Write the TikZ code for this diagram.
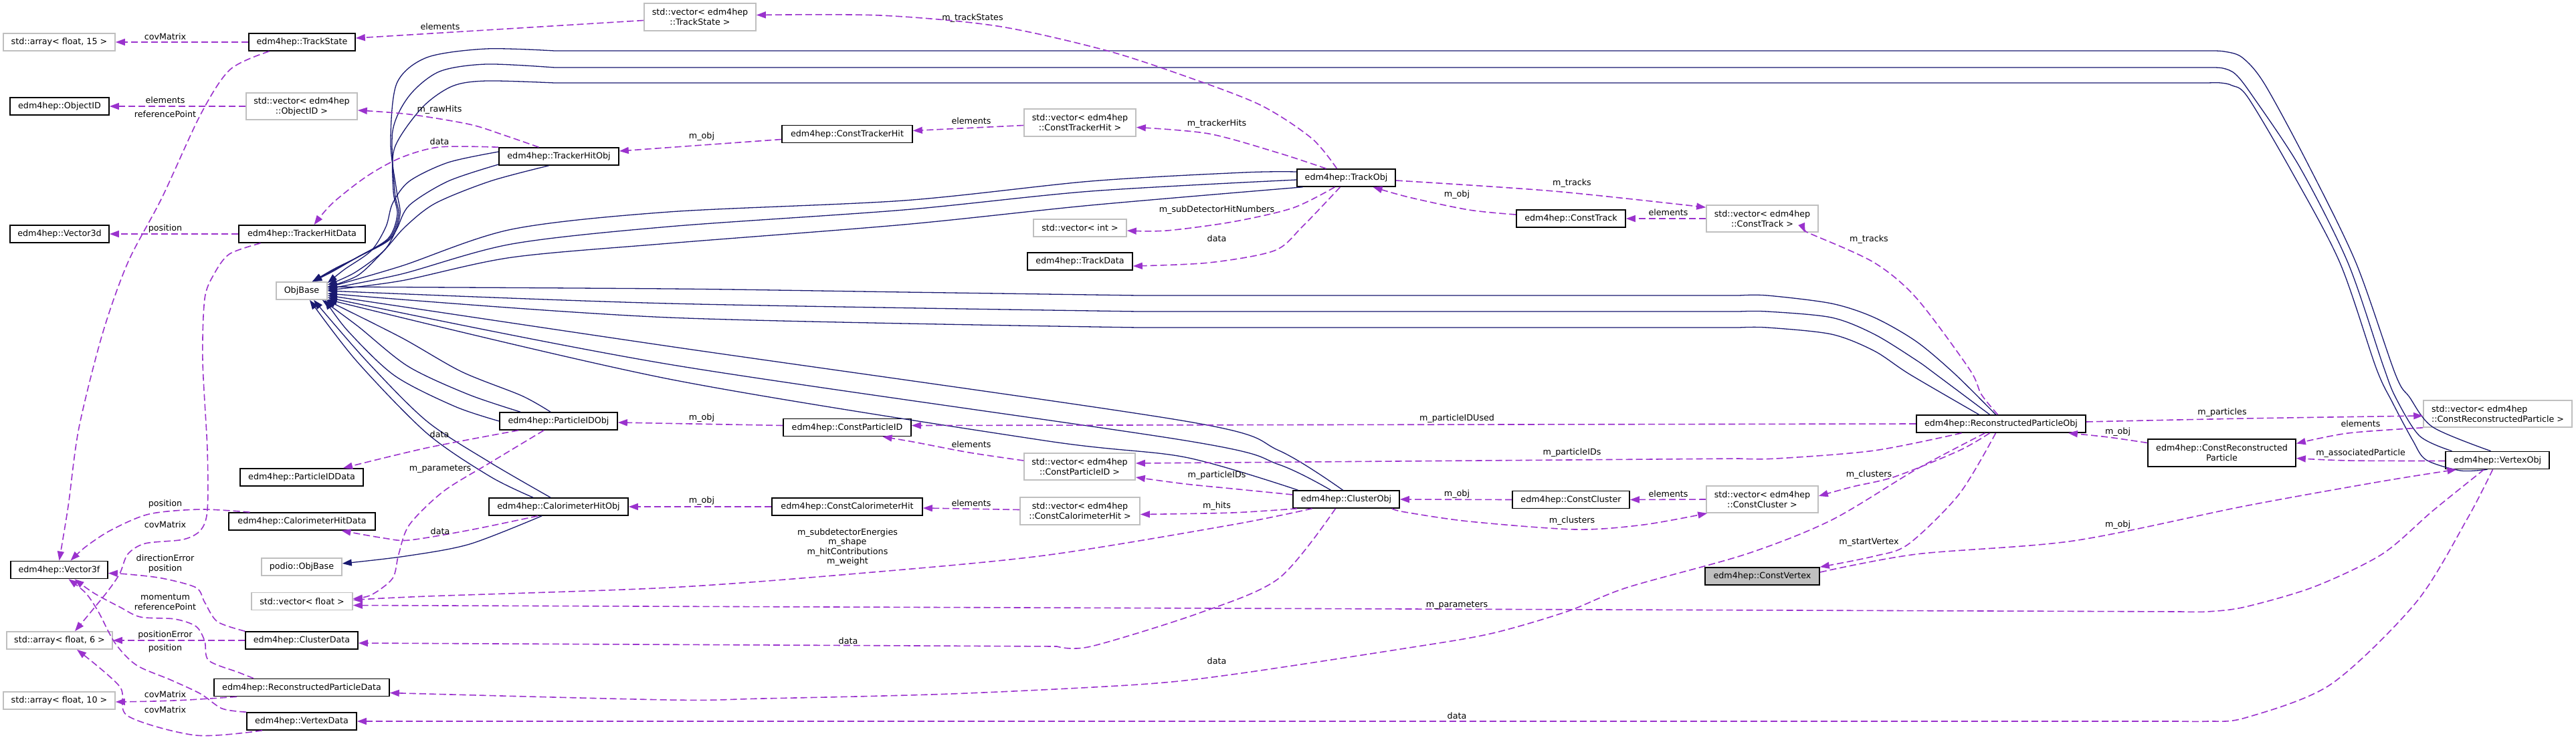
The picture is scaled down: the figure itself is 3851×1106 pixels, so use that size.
\documentclass[tikz,border=0pt]{standalone}
\usepackage{fontspec}
\setmainfont{DejaVu Sans}
\usetikzlibrary{arrows.meta}
\definecolor{edgep}{HTML}{9A32CD}
\definecolor{navyc}{HTML}{191970}
\definecolor{greyb}{HTML}{BFBFBF}
\newcommand\dxfont{\fontsize{12.7}{15}\selectfont}
\tikzset{
 box/.style={draw=black, line width=1.6pt, fill=white, inner sep=0pt, minimum height=26pt, font=\dxfont, align=center},
 gbox/.style={box, draw=greyb},
 lbl/.style={font=\dxfont, inner sep=0pt, align=center},
 dep/.style={draw=edgep, line width=1.6pt, dash pattern=on 10pt off 5pt, -{Triangle[length=14pt,width=10pt]}},
 inh/.style={draw=navyc, line width=1.3pt, -{Triangle[length=14pt,width=10pt]}},
}
\begin{document}
\begin{tikzpicture}[x=1pt,y=-1pt]
\useasboundingbox (0,0) rectangle (3851,1106);
% ---------------- nodes
\node[gbox, minimum width=167pt] (a15) at (88.5,63) {std::array< float, 15 >};
\node[box, minimum width=159pt] (ts) at (451.5,63) {edm4hep::TrackState};
\node[gbox, minimum width=167pt, minimum height=41pt] (vts) at (1046.5,25.5) {std::vector< edm4hep\\::TrackState >};
\node[box, minimum width=148pt] (oid) at (89,159) {edm4hep::ObjectID};
\node[gbox, minimum width=166pt, minimum height=40pt] (voi) at (451,159) {std::vector< edm4hep\\::ObjectID >};
\node[box, minimum width=148pt] (v3d) at (89,350) {edm4hep::Vector3d};
\node[box, minimum width=189pt] (thd) at (451.5,350) {edm4hep::TrackerHitData};
\node[gbox, minimum width=76pt] (ob) at (451,435) {ObjBase};
\node[box, minimum width=179pt] (tho) at (835.5,234) {edm4hep::TrackerHitObj};
\node[box, minimum width=176pt] (pio) at (835,630) {edm4hep::ParticleIDObj};
\node[box, minimum width=184pt] (pidd) at (451,714) {edm4hep::ParticleIDData};
\node[box, minimum width=208pt] (cho) at (835,758) {edm4hep::CalorimeterHitObj};
\node[box, minimum width=219pt] (chd) at (451.5,780) {edm4hep::CalorimeterHitData};
\node[box, minimum width=145pt] (v3f) at (88.5,852.5) {edm4hep::Vector3f};
\node[gbox, minimum width=120pt] (pob) at (451,848) {podio::ObjBase};
\node[gbox, minimum width=151pt] (vf) at (451.5,899.5) {std::vector< float >};
\node[gbox, minimum width=158pt] (a6) at (89,958) {std::array< float, 6 >};
\node[box, minimum width=168pt] (cd) at (451,958) {edm4hep::ClusterData};
\node[box, minimum width=262pt] (rpd) at (451,1028.5) {edm4hep::ReconstructedParticleData};
\node[gbox, minimum width=167pt] (a10) at (88.5,1048) {std::array< float, 10 >};
\node[box, minimum width=164pt] (vd) at (451,1079) {edm4hep::VertexData};
\node[box, minimum width=195pt] (cth) at (1266.5,200.5) {edm4hep::ConstTrackerHit};
\node[gbox, minimum width=167pt, minimum height=41pt] (vcth) at (1614.5,183.5) {std::vector< edm4hep\\::ConstTrackerHit >};
\node[box, minimum width=147pt] (to) at (2012.5,266) {edm4hep::TrackObj};
\node[gbox, minimum width=139pt] (vi) at (1614.5,341) {std::vector< int >};
\node[box, minimum width=157pt] (td) at (1614.5,391) {edm4hep::TrackData};
\node[box, minimum width=191pt] (cpid) at (1266.5,639.5) {edm4hep::ConstParticleID};
\node[gbox, minimum width=166pt, minimum height=40pt] (vcpid) at (1614,698) {std::vector< edm4hep\\::ConstParticleID >};
\node[box, minimum width=225pt] (cch) at (1266.5,758) {edm4hep::ConstCalorimeterHit};
\node[gbox, minimum width=179pt, minimum height=41pt] (vcch) at (1614.5,764.5) {std::vector< edm4hep\\::ConstCalorimeterHit >};
\node[box, minimum width=159pt] (co) at (2012.5,747) {edm4hep::ClusterObj};
\node[box, minimum width=163pt] (ct) at (2348.5,327) {edm4hep::ConstTrack};
\node[gbox, minimum width=167pt, minimum height=40pt] (vct) at (2634.5,327) {std::vector< edm4hep\\::ConstTrack >};
\node[box, minimum width=253pt] (rpo) at (2991.5,634) {edm4hep::ReconstructedParticleObj};
\node[box, minimum width=175pt] (cc) at (2348.5,747.5) {edm4hep::ConstCluster};
\node[gbox, minimum width=167pt, minimum height=40pt] (vcc) at (2634.5,747) {std::vector< edm4hep\\::ConstCluster >};
\node[box, fill=greyb, minimum width=171pt] (cv) at (2634.5,862) {edm4hep::ConstVertex};
\node[gbox, minimum width=222pt, minimum height=40pt, align=left] (vcrp) at (3734,619) {std::vector< edm4hep\\::ConstReconstructedParticle >};
\node[box, minimum width=221pt, minimum height=41pt] (crp) at (3321.5,677.5) {edm4hep::ConstReconstructed\\Particle};
\node[box, minimum width=155pt] (vo) at (3733.5,688.5) {edm4hep::VertexObj};

% ---------------- inheritance edges (navy)
\draw[inh] plot[smooth] coordinates {([xshift=-10]vo.north) (3637,639) (3602,594) (3581,560) (3522,393) (3450,245) (3385,125) (3352,86) (3325,77) (3300,76)} -- plot[smooth] coordinates {(829,76) (727,73) (638,86) (593,125) (584,214) (593,286) (598,321) (584,357) (540,382) (500,402) ([xshift=16]ob.north)};
\draw[inh] plot[smooth] coordinates {([xshift=-68]vo.north) (3617,652) (3581,594) (3562,545) (3510,393) (3438,250) (3367,143) (3342,111) (3323,102) (3300,101)} -- plot[smooth] coordinates {(829,101) (727,96) (657,107) (612,143) (587,196) (590,286) (596,321) (582,357) (536,384) (497,405) ([xshift=16]ob.north)};
\draw[inh] plot[smooth] coordinates {([xshift=-15]vo.south) (3678,704) (3627,688) (3607,659) (3576,601) (3552,550) (3498,393) (3425,255) (3360,145) (3337,128) (3320,124) (3300,124)} -- plot[smooth] coordinates {(829,124) (727,121) (676,129) (631,161) (590,221) (588,286) (594,321) (580,357) (532,386) (494,408) ([xshift=16]ob.north)};
\draw[inh] plot[smooth] coordinates {([yshift=7]tho.west) (670,243) (612,271) (587,304) (577,339) (555,375) (515,403) ([yshift=-2]ob.north east)};
\draw[inh] plot[smooth] coordinates {([yshift=-12]tho.west) (670,271) (612,307) (593,343) (574,375) (530,408) ([yshift=-5]ob.north east)};
\draw[inh] plot[smooth] coordinates {([xshift=-15]tho.south) (733,271) (651,304) (606,339) (574,375) (535,412) ([yshift=-8]ob.north east)};
\draw[inh] plot[smooth] coordinates {([yshift=9]to.west) (1860,258) (1631,271) (1351,300) (1000,317) (765,343) (600,398) ([yshift=5]ob.east)};
\draw[inh] plot[smooth] coordinates {([yshift=-3]to.west) (1631,286) (1351,314) (1000,339) (765,365) (600,410) ([yshift=3]ob.east)};
\draw[inh] plot[smooth] coordinates {([xshift=-65]to.south) (1631,307) (1351,336) (1000,364) (765,385) (600,420) ([yshift=1]ob.east)};
\draw[inh] plot[smooth] coordinates {([xshift=-8]rpo.north) (2923,560) (2865,511) (2802,475) (2738,454) (2642,442) (2600,442)} -- plot[smooth] coordinates {(1702,442) (1351,437) (1000,432) ([yshift=6]ob.east)};
\draw[inh] plot[smooth] coordinates {([xshift=-17]rpo.north) (2894,560) (2865,539) (2802,500) (2738,475) (2642,466) (2600,466)} -- plot[smooth] coordinates {(1702,466) (1000,454) (ob.east)};
\draw[inh] plot[smooth] coordinates {([xshift=-33]rpo.north) (2855,560) (2802,525) (2738,500) (2642,490) (2600,490)} -- plot[smooth] coordinates {(1702,490) (1000,475) ([yshift=-4]ob.east)};
\draw[inh] plot[smooth] coordinates {([xshift=-5]co.north) (1912,674) (1772,630) (1000,518) ([yshift=-7]ob.east)};
\draw[inh] plot[smooth] coordinates {([xshift=-23]co.north) (1912,695) (1772,659) (1000,545) ([yshift=-10]ob.east)};
\draw[inh] plot[smooth] coordinates {([xshift=-72]co.north) (1772,684) (1561,659) (1000,567) ([yshift=-13]ob.east)};
\draw[inh] plot[smooth] coordinates {(pio.west) (680,608) (590,562) (520,495) ([xshift=-4]ob.south east)};
\draw[inh] plot[smooth] coordinates {([xshift=-57]pio.north) (700,590) (610,548) (535,488) ([xshift=-8]ob.south east)};
\draw[inh] plot[smooth] coordinates {([xshift=-12]pio.north) (780,592) (690,556) (600,505) ([xshift=-2]ob.south east)};
\draw[inh] plot[smooth] coordinates {([xshift=-38]cho.north) (733,713) (638,648) (533,540) ([xshift=12]ob.south)};
\draw[inh] plot[smooth] coordinates {([xshift=-12]cho.north) (733,692) (638,630) (548,540) ([xshift=18]ob.south)};
\draw[inh] plot[smooth] coordinates {([xshift=-25]cho.south) (702,814) (606,832) ([yshift=5]pob.east)};

% ---------------- usage edges (purple dashed)
\draw[dep] (ts.west) -- (a15.east);
\draw[dep] ([yshift=-5]vts.west) -- ([yshift=6]ts.east);
\draw[dep] plot[smooth] coordinates {([xshift=-49]ts.south) (344,104) (300,171) (242,296) (191,393) (153,500) (118,640) (102,757) (v3f.north)};
\draw[dep] (voi.west) -- (oid.east);
\draw[dep] plot[smooth] coordinates {([xshift=-30]tho.north) (753,202) (702,186) (612,171) ([yshift=-6]voi.east)};
\draw[dep] plot[smooth] coordinates {(tho.north west) (657,220) (599,236) (548,264) (497,304) ([xshift=18]thd.north)};
\draw[dep] (thd.west) -- (v3d.east);
\draw[dep] plot[smooth] coordinates {([xshift=-62]thd.south) (343,380) (320,410) (306,447) (303,540) (310,673) (310,763) (300,793) (274,807) (217,813) (191,829) (179,858) (159,887) ([xshift=23]a6.north)};
\draw[dep] plot[smooth] coordinates {([xshift=-78]chd.north) (300,762) (223,769) (166,793) (128,818) ([xshift=17]v3f.north)};
\draw[dep] plot[smooth] coordinates {(cd.north west) (325,930) (306,901) (293,879) (242,865) (191,859) ([yshift=-5]v3f.east)};
\draw[dep] (cd.west) -- (a6.east);
\draw[dep] plot[smooth] coordinates {([xshift=-72]rpd.north) (357,1006) (312,988) (306,959) (293,937) (261,926) (210,923) (179,908) (140,887) ([xshift=23]v3f.south)};
\draw[dep] plot[smooth] coordinates {([xshift=-97]rpd.south) (281,1047) (230,1049) ([yshift=-2]a10.east)};
\draw[dep] plot[smooth] coordinates {(vd.north west) (332,1060) (300,1038) (255,1017) (204,995) (172,962) (147,915) (128,887) ([xshift=14]v3f.south)};
\draw[dep] plot[smooth] coordinates {([xshift=-59]vd.south) (293,1100) (191,1071) (179,1027) ([xshift=26]a6.south)};
\draw[dep] ([yshift=-8]cth.west) -- ([yshift=8]tho.east);
\draw[dep] ([yshift=-4]vcth.west) -- ([yshift=5]cth.east);
\draw[dep] plot[smooth] coordinates {([xshift=-30]to.north) (1912,229) (1807,200) ([yshift=-7]vcth.east)};
\draw[dep] plot[smooth] coordinates {([xshift=-14]to.north) (1961,207) (1884,157) (1772,114) (1652,75) (1491,39) (1316,23) ([yshift=3]vts.east)};
\draw[dep] plot[smooth] coordinates {([xshift=-17]to.south) (1933,311) (1842,332) (1744,345) ([yshift=-4]vi.east)};
\draw[dep] plot[smooth] coordinates {([xshift=-9]to.south) (1947,339) (1905,375) (1807,393) ([yshift=-7]td.east)};
\draw[dep] plot[smooth] coordinates {([yshift=-4]to.east) (2323,286) ([yshift=-4]vct.north west)};
\draw[dep] plot[smooth] coordinates {([yshift=6]ct.west) (2196,314) (2106,295) ([xshift=40]to.south)};
\draw[dep] (vct.west) -- (ct.east);
\draw[dep] plot[smooth] coordinates {([xshift=-5]rpo.north) (2962,590) (2944,552) (2865,446) (2802,393) (2712,352) ([xshift=64]vct.south)};
\draw[dep] ([yshift=3]cpid.west) -- ([yshift=-2]pio.east);
\draw[dep] plot[smooth] coordinates {([yshift=9]vcpid.west) (1449,677) (1365,661) ([xshift=53]cpid.south)};
\draw[dep] plot[smooth] coordinates {([xshift=-60]pio.south) (638,670) ([xshift=62]pidd.north)};
\draw[dep] plot[smooth] coordinates {([xshift=-22]pio.south) (733,692) (663,735) (612,785) (596,829) (587,865) (555,890) ([yshift=4]vf.east)};
\draw[dep] plot[smooth] coordinates {([xshift=-31]cho.south) (702,793) (612,808) (574,805) ([xshift=59]chd.south)};
\draw[dep] (cch.west) -- (cho.east);
\draw[dep] ([yshift=2]vcch.west) -- ([yshift=-2]cch.east);
\draw[dep] plot[smooth] coordinates {([xshift=7]co.south west) (1842,767) ([yshift=-5]vcch.east)};
\draw[dep] plot[smooth] coordinates {([yshift=7]co.west) (1842,731) (1772,724) ([yshift=-16]vcpid.east)};
\draw[dep] plot[smooth] coordinates {([xshift=-51]co.south) (1842,785) (1561,831) (1281,858) (1000,879) (638,892) ([yshift=2]vf.east)};
\draw[dep] plot[smooth] coordinates {([xshift=-16]co.south) (1912,865) (1793,917) (1631,967) (1580,967)} -- ([yshift=-4]cd.east);
\draw[dep] (cc.west) -- (co.east);
\draw[dep] (vcc.west) -- (cc.east);
\draw[dep] plot[smooth] coordinates {([xshift=-12]co.south east) (2100,766) (2196,780) (2355,792) (2457,785) ([xshift=2]vcc.south west)};
\draw[dep] plot[smooth] coordinates {([xshift=-17]rpo.south) (2929,674) (2833,713) (2770,728) ([yshift=5]vcc.east)};
\draw[dep] (rpo.west) -- ([yshift=3]cpid.east);
\draw[dep] plot[smooth] coordinates {([xshift=-59]rpo.south) (2802,674) (2655,686) (2600,686)} -- ([yshift=5]vcpid.east);
\draw[dep] plot[smooth] coordinates {([xshift=-8]rpo.south) (2929,739) (2853,814) (2802,832) (cv.north east)};
\draw[dep] plot[smooth] coordinates {([xshift=-24]rpo.south) (2865,702) (2738,778) (2610,829) (2432,879) (2342,915) (2228,948) (2100,970) (1842,1009) (1702,1024) (1421,1038) (1140,1045) (1000,1047) ([yshift=-8]rpd.east)};
\draw[dep] plot[smooth] coordinates {([yshift=6]cv.east) (2865,829) (3100,809) (3356,757) (3561,720) ([xshift=-61]vo.south)};
\draw[dep] plot[smooth] coordinates {([yshift=-1]vo.west) (3510,689) ([yshift=-8]crp.east)};
\draw[dep] plot[smooth] coordinates {(vcrp.south west) (3510,648) ([yshift=14]crp.east)};
\draw[dep] plot[smooth] coordinates {([yshift=15]crp.west) (3152,654) ([xshift=-27]rpo.south east)};
\draw[dep] plot[smooth] coordinates {([yshift=3]rpo.east) (3356,626) ([yshift=-3]vcrp.west)};
\draw[dep] plot[smooth] coordinates {([xshift=-20]vo.south) (3637,764) (3561,829) (3459,878) (3356,908) (3300,915) (3260,915)} -- ([yshift=-6]vf.east);
\draw[dep] plot[smooth] coordinates {([xshift=-7]vo.south) (3689,775) (3612,901) (3484,1024) (3356,1074) (3300,1079) (3260,1079)} -- (vd.east);

% ---------------- labels
\node[lbl] (l1) at (247,55) {covMatrix};
\node[lbl] (l2) at (658,40) {elements};
\node[lbl] (l3) at (247,171) {referencePoint};
\node[lbl] (l4) at (247,150) {elements};
\node[lbl] (l5) at (657,164) {m\_rawHits};
\node[lbl] (l6) at (657,212) {data};
\node[lbl] (l7) at (247,342) {position};
\node[lbl] (l8) at (247,785) {covMatrix};
\node[lbl] (l9) at (247,754) {position};
\node[lbl] (l10) at (247,843) {directionError\\position};
\node[lbl] (l11) at (247,950) {positionError};
\node[lbl] (l12) at (247,901) {momentum\\referencePoint};
\node[lbl] (l13) at (247,1039) {covMatrix};
\node[lbl] (l14) at (247,970) {position};
\node[lbl] (l15) at (247,1062) {covMatrix};
\node[lbl] (l16) at (1049,204) {m\_obj};
\node[lbl] (l17) at (1452,181) {elements};
\node[lbl] (l18) at (1819,185) {m\_trackerHits};
\node[lbl] (l19) at (1454,27) {m\_trackStates};
\node[lbl] (l20) at (1819,314) {m\_subDetectorHitNumbers};
\node[lbl] (l21) at (1819,357) {data};
\node[lbl] (l22) at (2350,274) {m\_tracks};
\node[lbl] (l23) at (2178,291) {m\_obj};
\node[lbl] (l24) at (2494,318) {elements};
\node[lbl] (l25) at (2794,358) {m\_tracks};
\node[lbl] (l26) at (1049,625) {m\_obj};
\node[lbl] (l27) at (1452,665) {elements};
\node[lbl] (l28) at (657,650) {data};
\node[lbl] (l29) at (658,702) {m\_parameters};
\node[lbl] (l30) at (658,795) {data};
\node[lbl] (l31) at (1049,749) {m\_obj};
\node[lbl] (l32) at (1452,753) {elements};
\node[lbl] (l33) at (1819,757) {m\_hits};
\node[lbl] (l34) at (1819,711) {m\_particleIDs};
\node[lbl, font=\fontsize{12.7}{14.4}\selectfont] (l35) at (1267,818.5) {m\_subdetectorEnergies\\m\_shape\\m\_hitContributions\\m\_weight};
\node[lbl] (l36) at (1268,959) {data};
\node[lbl] (l37) at (2178,739) {m\_obj};
\node[lbl] (l38) at (2494,739) {elements};
\node[lbl] (l39) at (2350,779) {m\_clusters};
\node[lbl] (l40) at (2794,710) {m\_clusters};
\node[lbl] (l41) at (2178,626) {m\_particleIDUsed};
\node[lbl] (l42) at (2350,677) {m\_particleIDs};
\node[lbl] (l43) at (2794,811) {m\_startVertex};
\node[lbl] (l44) at (1819,989) {data};
\node[lbl] (l45) at (3166,785) {m\_obj};
\node[lbl] (l46) at (3529,678) {m\_associatedParticle};
\node[lbl] (l47) at (3529,634) {elements};
\node[lbl] (l48) at (3166,646) {m\_obj};
\node[lbl] (l49) at (3322,617) {m\_particles};
\node[lbl] (l50) at (2178,906) {m\_parameters};
\node[lbl] (l51) at (2178,1071) {data};
\end{tikzpicture}
\end{document}
